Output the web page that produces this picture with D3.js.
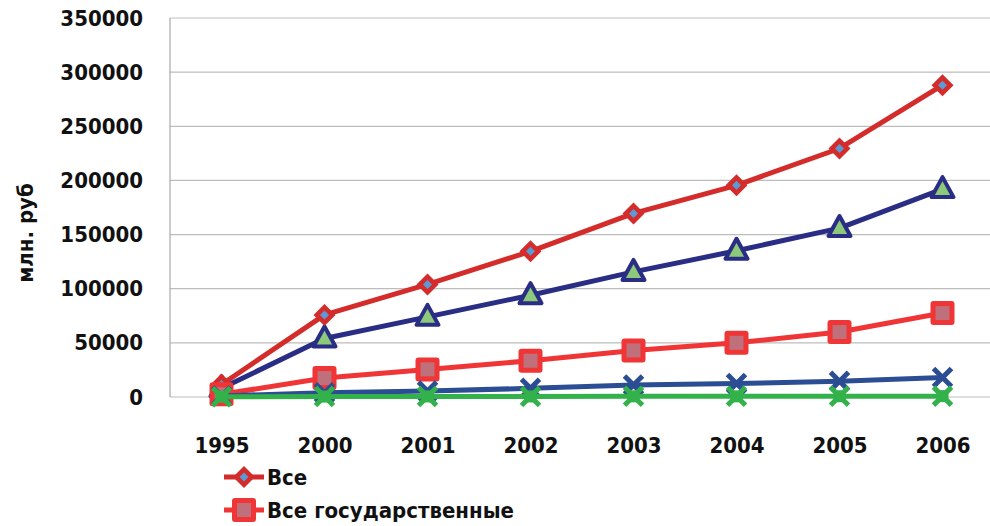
<!DOCTYPE html>
<html><head><meta charset="utf-8">
<script src="https://cdn.jsdelivr.net/npm/d3@7"></script>
<style>body{margin:0;background:#fff}svg{display:block}text{font-family:"DejaVu Sans Condensed","DejaVu Sans",sans-serif;font-weight:bold;fill:#111}</style>
</head><body><svg id="c" width="990" height="526"></svg>
<script>
const years = ["1995","2000","2001","2002","2003","2004","2005","2006"];
const allTotal = [11500, 75800, 104000, 134500, 169500, 195500, 229500, 288000];
const allState = [2500, 17500, 25500, 33500, 43000, 50000, 60000, 77500];
const seriesTri = [8000, 54000, 74000, 94000, 115500, 135000, 156000, 192000];
const seriesX = [1000, 4000, 5500, 8000, 11000, 12500, 14500, 18000];
const seriesGreen = [300, 400, 500, 500, 600, 600, 700, 800];
const yTicks = [0, 50000, 100000, 150000, 200000, 250000, 300000, 350000];
const legendNames = ["Все", "Все государственные"];
const yTitle = "млн. руб";

const FONT = "DejaVu Sans Condensed";
const svg = d3.select("#c");
const L = 170, R = 994, T = 18, B = 397;
const x = d3.scalePoint().domain(years).range([L, R]).padding(0.5);
const y = d3.scaleLinear().domain([0, 350000]).range([B, T]);

// gridlines
svg.append("g").selectAll("line").data(yTicks).join("line")
  .attr("x1", L).attr("x2", 990).attr("y1", d => y(d)).attr("y2", d => y(d))
  .attr("stroke", "#bdbdbd").attr("stroke-width", 1.2);
svg.append("line").attr("x1", L).attr("x2", L).attr("y1", T).attr("y2", B)
  .attr("stroke", "#a8a8a8").attr("stroke-width", 1.2);

const yAxis = svg.append("g").attr("transform", `translate(${L},0)`)
  .call(d3.axisLeft(y).tickValues(yTicks).tickSize(0).tickPadding(27).tickFormat(d3.format("d")));
yAxis.select(".domain").remove();
yAxis.selectAll("text").attr("font-size", 22).style("font-family", FONT).attr("font-weight", "bold").attr("fill", "#111");

const xAxis = svg.append("g").attr("transform", `translate(0,${B})`)
  .call(d3.axisBottom(x).tickSize(0).tickPadding(40));
xAxis.select(".domain").remove();
xAxis.selectAll("text").attr("font-size", 22).style("font-family", FONT).attr("font-weight", "bold").attr("fill", "#111");

svg.append("text").attr("transform", "translate(33,233) rotate(-90)")
  .attr("text-anchor", "middle").attr("font-size", 22).text(yTitle);

const line = d3.line().x((d, i) => x(years[i])).y(d => y(d));

function drawLine(data, color, w) {
  svg.append("path").datum(data).attr("d", line).attr("fill", "none")
    .attr("stroke", color).attr("stroke-width", w).attr("stroke-linejoin", "round");
}
function diamond(g, cx, cy) {
  g.append("path").attr("d", `M${cx},${cy-11}L${cx+11},${cy}L${cx},${cy+11}L${cx-11},${cy}Z`)
    .attr("fill", "#d42b2b");
  g.append("path").attr("d", `M${cx},${cy-4.5}L${cx+4.5},${cy}L${cx},${cy+4.5}L${cx-4.5},${cy}Z`)
    .attr("fill", "#5b9bd5");
}
function square(g, cx, cy) {
  g.append("rect").attr("x", cx-12).attr("y", cy-12).attr("width", 24).attr("height", 24)
    .attr("rx", 3).attr("fill", "#ef3535");
  g.append("rect").attr("x", cx-7).attr("y", cy-7).attr("width", 14).attr("height", 14)
    .attr("fill", "#c0707a");
}
function triangle(g, cx, cy) {
  g.append("path").attr("d", `M${cx},${cy-12}L${cx+11},${cy+8}L${cx-11},${cy+8}Z`)
    .attr("fill", "#8dc97b").attr("stroke", "#2a2d84").attr("stroke-width", 4).attr("stroke-linejoin", "round");
}
function cross(g, cx, cy, color) {
  g.append("path").attr("d", `M${cx-9},${cy-9}L${cx+9},${cy+9}M${cx+9},${cy-9}L${cx-9},${cy+9}`)
    .attr("stroke", color).attr("stroke-width", 5);
}
function greenStar(g, cx, cy) {
  cross(g, cx, cy, "#33b14a");
  g.append("rect").attr("x", cx-6).attr("y", cy-6).attr("width", 12).attr("height", 12).attr("fill", "#33b14a");
}

drawLine(seriesTri, "#2a2d84", 5);
seriesTri.forEach((v, i) => triangle(svg, x(years[i]), y(v)));
drawLine(allTotal, "#d42b2b", 5);
allTotal.forEach((v, i) => diamond(svg, x(years[i]), y(v)));
drawLine(allState, "#ef3535", 5);
allState.forEach((v, i) => square(svg, x(years[i]), y(v)));
drawLine(seriesX, "#2b4d93", 5);
seriesX.forEach((v, i) => cross(svg, x(years[i]), y(v), "#2b4d93"));
drawLine(seriesGreen, "#33b14a", 5);
seriesGreen.forEach((v, i) => greenStar(svg, x(years[i]), y(v)));

// legend
const lg = svg.append("g");
[[477, diamond, "#d42b2b"], [510, square, "#ef3535"]].forEach(([ly, fn, col], i) => {
  lg.append("line").attr("x1", 224).attr("x2", 264).attr("y1", ly).attr("y2", ly)
    .attr("stroke", col).attr("stroke-width", 5);
  fn(lg, 244, ly);
  lg.append("text").attr("x", 267).attr("y", ly + 8).attr("font-size", 22).text(legendNames[i]);
});
</script></body></html>
